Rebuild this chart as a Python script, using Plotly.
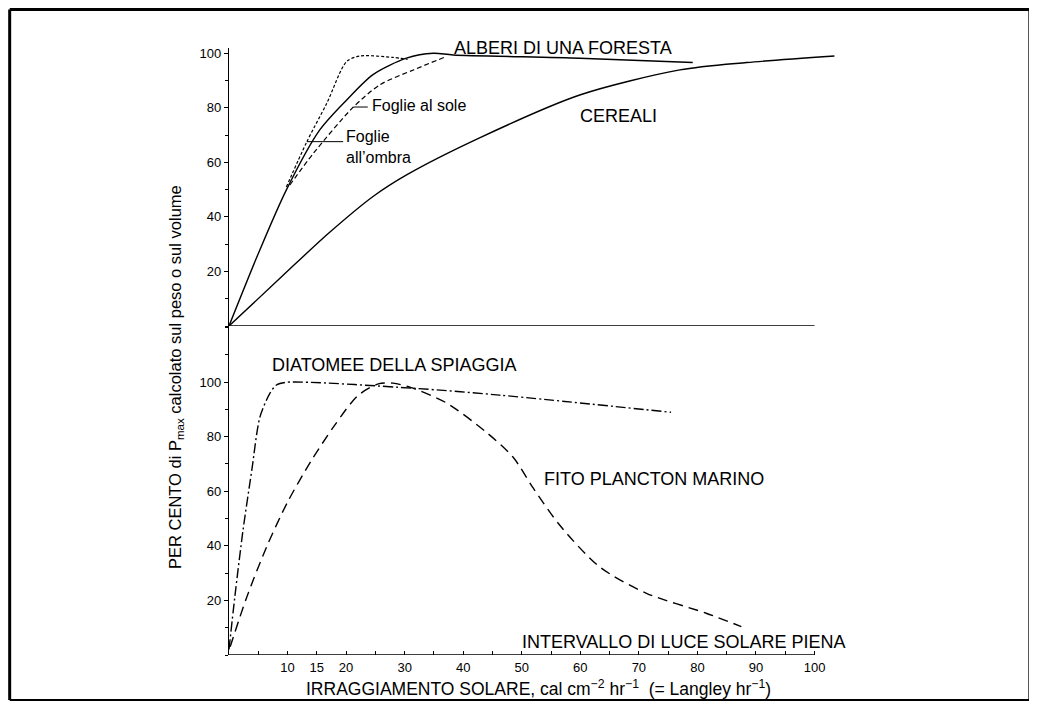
import plotly.graph_objects as go

# ---------------- data ----------------
# top panel: land plants
cereali_x = [0, 9.2, 17.0, 24.6, 30.4, 42.8, 59.9, 77.0, 88.4, 103.4]
cereali_y = [0, 18.5, 34.0, 47.5, 55.5, 69.0, 84.7, 93.9, 96.6, 99.0]

alberi_x = [0, 4.9, 9.8, 15.5, 20.1, 24.6, 30.3, 34.9, 38.3, 59.9, 79.2]
alberi_y = [0, 26.0, 49.9, 71.9, 82.9, 92.2, 98.2, 100.0, 99.4, 98.2, 96.6]

sole_x = [9.8, 13.3, 16.7, 20.1, 22.4, 28.0, 30.5]
sole_y = [51.0, 67.6, 81.7, 97.0, 99.0, 98.5, 97.8]

ombra_x = [10.4, 14.4, 21.2, 25.8, 31.5, 37.1]
ombra_y = [51.7, 63.3, 80.2, 88.5, 93.9, 98.8]

# bottom panel: aquatic plants
diatomee_x = [0, 1.0, 2.4, 3.9, 5.3, 7.0, 8.1, 9.8, 31.5, 46.2, 75.5]
diatomee_y = [2, 21.4, 45.8, 67.8, 87.3, 95.9, 98.9, 99.9, 97.7, 95.2, 88.9]

fito_x = [0.2, 3.0, 6.5, 10.0, 14.0, 18.0, 22.0, 25.5, 28.0, 31.0, 37.0, 44.0,
          48.5, 52.0, 56.5, 63.3, 71.3, 81.5, 87.5]
fito_y = [3, 21.0, 40.0, 56.0, 71.0, 84.0, 95.0, 99.3, 99.6, 98.0, 92.5, 81.5,
          72.5, 61.0, 47.5, 32.3, 22.6, 15.3, 10.4]

x_tickvals = [10, 15, 20, 30, 40, 50, 60, 70, 80, 90, 100]
x_ticktext = ["10", "15", "20", "30", "40", "50", "60", "70", "80", "90", "100"]
y_tickvals = [20, 40, 60, 80, 100]

# ---------------- figure ----------------
FONT = "Liberation Sans, Arial, Helvetica, sans-serif"
OFF = 8                      # page offset of the plot div (body margin)
W, H = 1037 - OFF, 720 - OFF
L, T = 229 - OFF, 48 - OFF
B = 720 - 655
R = 1037 - 838.5
PW, PH = W - L - R, H - T - B
XMAX = PW / 5.86
bottom_px = 329
split = bottom_px / PH


def px(xp):  # page pixel -> paper x
    return (xp - OFF - L) / PW


def py(yp):  # page pixel -> paper y
    return (H - B - (yp - OFF)) / PH


fig = go.Figure()


def add(x, y, yaxis, dash, width=1.4):
    fig.add_trace(go.Scatter(
        x=x, y=y, xaxis="x", yaxis=yaxis, mode="lines",
        line=dict(color="black", width=width, dash=dash, shape="spline", smoothing=0.8),
        hoverinfo="skip", showlegend=False))


add(cereali_x, cereali_y, "y2", "solid")
add(alberi_x, alberi_y, "y2", "solid")
add(sole_x, sole_y, "y2", "3px,2px", 1.2)
add(ombra_x, ombra_y, "y2", "5px,3px", 1.2)
add(diatomee_x, diatomee_y, "y", "10px,3px,2px,3px")
add(fito_x, fito_y, "y", "10px,6px")

axis_common = dict(showgrid=False, zeroline=False, color="black",
                   tickfont=dict(family=FONT, size=13, color="black"))

fig.update_layout(
    width=W, height=H,
    margin=dict(l=L, r=R, t=T, b=B, pad=0),
    paper_bgcolor="white", plot_bgcolor="white",
    font=dict(family=FONT, color="black"),
    xaxis=dict(range=[0, XMAX], anchor="y", showline=False,
               tickvals=x_tickvals, ticktext=x_ticktext,
               ticks="inside", ticklen=4, tickwidth=1, tickcolor="black",
               ticklabelstandoff=3,
               minor=dict(dtick=5, ticks="inside", ticklen=4, tickcolor="black"),
               **axis_common),
    yaxis=dict(domain=[0, split], range=[0, bottom_px / 2.73], anchor="x",
               showline=True, linecolor="black", linewidth=1.4,
               tickvals=y_tickvals, ticks="outside", ticklen=4, tickcolor="black",
               minor=dict(dtick=10, ticks="outside", ticklen=3, tickcolor="black"),
               **axis_common),
    yaxis2=dict(domain=[split, 1], range=[0, (PH - bottom_px) / 2.727], anchor="x",
                showline=True, linecolor="black", linewidth=1.4,
                tickvals=y_tickvals, ticks="outside", ticklen=4, tickcolor="black",
                minor=dict(dtick=10, ticks="outside", ticklen=3, tickcolor="black"),
                **axis_common),
)

# baselines (x axis of each panel, drawn from 0 to 100)
fig.add_shape(type="line", xref="x", yref="y", x0=0, x1=100, y0=0, y1=0,
              line=dict(color="black", width=1.4))
fig.add_shape(type="line", xref="x", yref="y2", x0=0, x1=100, y0=0, y1=0,
              line=dict(color="black", width=1.4))

# leader lines
fig.add_shape(type="line", xref="x", yref="y2", x0=21.3, x1=23.7, y0=80.3, y1=80.3,
              line=dict(color="black", width=1))
fig.add_shape(type="line", xref="x", yref="y2", x0=13.3, x1=19.5, y0=67.6, y1=67.6,
              line=dict(color="black", width=1))


def label(text, x, y, yref, size=18, xanchor="center", align="center"):
    fig.add_annotation(text=text, x=x, y=y, xref="x", yref=yref, showarrow=False,
                       xanchor=xanchor, yanchor="middle", align=align,
                       font=dict(family=FONT, size=size, color="black"))


label("ALBERI DI UNA FORESTA", 57.1, 101.9, "y2")
label("Foglie al sole", 24.0, 80.8, "y2", size=16, xanchor="left")
label("Foglie<br>all\u2019ombra", 19.6, 65.8, "y2", size=16, xanchor="left", align="left")
label("CEREALI", 66.5, 77.0, "y2")
label("DIATOMEE DELLA SPIAGGIA", 28.2, 106.2, "y")
label("FITO PLANCTON MARINO", 72.5, 64.5, "y")
label("INTERVALLO DI LUCE SOLARE PIENA", 77.6, 4.9, "y")

# axis titles
fig.add_annotation(
    text="IRRAGGIAMENTO SOLARE, cal cm<sup>\u22122</sup> hr<sup>\u22121</sup>  (= Langley hr<sup>\u22121</sup>)",
    xref="paper", yref="paper", x=px(539), y=py(688),
    showarrow=False, xanchor="center", yanchor="middle",
    font=dict(family=FONT, size=17.5, color="black"))
fig.add_annotation(
    text="PER CENTO di P<sub>max</sub> calcolato sul peso o sul volume",
    xref="paper", yref="paper", x=px(176), y=py(377),
    showarrow=False, textangle=-90, xanchor="center", yanchor="middle",
    font=dict(family=FONT, size=16.5, color="black"))

# frame around the whole figure
left, top, right, bottom = 9.5, 9.5, 1030, 700
fig.add_shape(type="line", xref="paper", yref="paper", x0=px(left), x1=px(left),
              y0=py(top), y1=py(bottom), line=dict(color="black", width=3))
fig.add_shape(type="line", xref="paper", yref="paper", x0=px(left), x1=px(right),
              y0=py(top), y1=py(top), line=dict(color="black", width=3))
fig.add_shape(type="line", xref="paper", yref="paper", x0=px(right), x1=px(right),
              y0=py(top), y1=py(bottom), line=dict(color="black", width=2))
fig.add_shape(type="line", xref="paper", yref="paper", x0=px(left), x1=px(right),
              y0=py(bottom), y1=py(bottom), line=dict(color="black", width=2))

fig.write_html("out.html")
